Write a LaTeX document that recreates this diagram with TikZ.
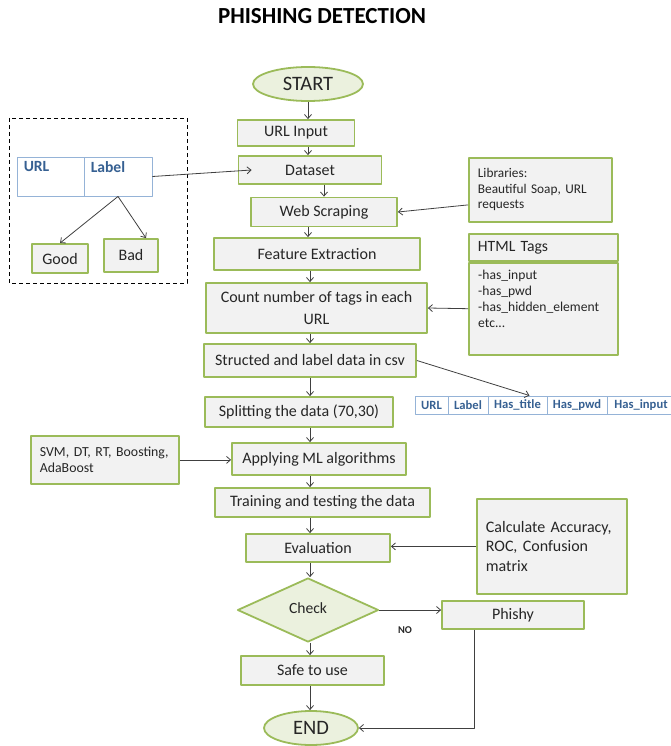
\documentclass[tikz,border=0pt]{standalone}
\usepackage{fontspec}
\setmainfont{Carlito}
\usetikzlibrary{arrows.meta,calc,positioning,shapes.geometric}
\definecolor{boxgreen}{RGB}{155,187,89}
\definecolor{boxfill}{RGB}{242,242,242}
\definecolor{termfill}{RGB}{235,241,222}
\definecolor{tblblue}{RGB}{149,179,215}
\definecolor{tbltext}{RGB}{54,96,146}
\definecolor{inkc}{RGB}{38,38,38}
\definecolor{arrowc}{RGB}{64,64,64}
\tikzset{
  procbox/.style={draw=boxgreen,line width=1.8pt,fill=boxfill,inner sep=2pt,text=inkc,font=\fontsize{16}{22}\selectfont,align=center},
  notebox/.style={procbox,align=left,inner xsep=9pt,font=\fontsize{13.3}{15.5}\selectfont},
  termnode/.style={ellipse,draw=boxgreen,line width=1.8pt,fill=termfill,inner sep=0pt,text=inkc,font=\fontsize{20.5}{22}\selectfont},
  decnode/.style={diamond,draw=boxgreen,line width=1.8pt,fill=termfill,inner sep=0pt,text=inkc,font=\fontsize{15.6}{17}\selectfont},
  tblcell/.style={draw=tblblue,line width=0.9pt,fill=white,inner sep=0pt,text=tbltext,font=\bfseries\fontsize{12.6}{13}\selectfont},
  flow/.style={draw=arrowc,line width=0.8pt,-{Straight Barb[length=4pt,width=7pt]}}
}

\begin{document}
\begin{tikzpicture}[x=1pt,y=-1pt,line join=round]
  \useasboundingbox (0,0) rectangle (670,746);
  \node[font=\bfseries\fontsize{23}{25}\selectfont,text=black] (title) at (322,16) {PHISHING DETECTION};
  % main flow
  \node[termnode,minimum width=110,minimum height=34] (start) at (308,84) {START};
  \node[procbox,minimum width=117,minimum height=26] (urlin) at (296,133) {URL Input};
  \node[procbox,minimum width=143,minimum height=28] (dataset) at (310,170) {Dataset};
  \node[procbox,minimum width=146,minimum height=29] (scrape) at (324,212) {Web Scraping};
  \node[procbox,minimum width=206,minimum height=32] (feature) at (317,254) {Feature Extraction};
  \node[procbox,minimum width=221,minimum height=50] (count) at (316.5,308) {Count number of tags in each\\URL};
  \node[procbox,minimum width=212,minimum height=33] (struct) at (310,360.5) {Structed and label data in csv};
  \node[procbox,minimum width=188,minimum height=30] (split) at (299,412) {Splitting the data (70,30)};
  \node[procbox,minimum width=174,minimum height=32] (apply) at (319,459) {Applying ML algorithms};
  \node[procbox,minimum width=215,minimum height=29] (train) at (322.5,502.5) {Training and testing the data};
  \node[procbox,minimum width=144,minimum height=28] (eval) at (318,548) {Evaluation};
  \node[decnode,minimum width=141,minimum height=64] (check) at (308,610) {\raisebox{4pt}{Check}};
  \node[procbox,minimum width=143,minimum height=29] (safe) at (312.5,670.5) {Safe to use};
  \node[termnode,minimum width=94,minimum height=34] (finish) at (311,728) {END};
  \node[procbox,minimum width=142,minimum height=28] (phishy) at (513,615) {Phishy};
  \node[font=\bfseries\fontsize{10.4}{11}\selectfont,text=inkc] (nolbl) at (405,630) {NO};
  % side notes
  \node[notebox,text width=125,minimum height=64,anchor=north west] (libs) at (468,157) {Libraries:\\Beautiful Soap, URL\\requests};
  \node[notebox,font=\fontsize{15.7}{18}\selectfont,text width=131,minimum height=27,anchor=north west] (htmlhead) at (468,233) {HTML Tags};
  \node[procbox,minimum width=149,minimum height=92,anchor=north] (htmlbody) at (htmlhead.south) {};
  \node[anchor=north west,align=left,font=\fontsize{13.6}{16}\selectfont,text=inkc,inner sep=0pt] (htmltxt) at ([shift={(10,8)}]htmlbody.north west) {-has\_input\\-has\_pwd\\-has\_hidden\_element\\etc...};
  \node[notebox,font=\fontsize{16}{19.5}\selectfont,text width=132,minimum height=95,anchor=north west] (calc) at (476,498) {Calculate Accuracy,\\ROC, Confusion\\matrix};
  \node[notebox,font=\fontsize{13.8}{15.5}\selectfont,text width=130,minimum height=48,anchor=north west] (svm) at (30,435) {SVM, DT, RT, Boosting,\\AdaBoost};
  % dataset group
  \draw[black,line width=0.8pt,dash pattern=on 4pt off 3pt] (9,118) rectangle (187,283);
  \node[tblcell,minimum width=67,minimum height=39] (urlcell) at (50.5,176.5) {};
  \node[tblcell,minimum width=68,minimum height=39] (labelcell) at (118,176.5) {};
  \node[anchor=north west,text=tbltext,font=\bfseries\fontsize{15.6}{16}\selectfont,inner sep=0pt] (urltxt) at ([shift={(7,5)}]urlcell.north west) {URL};
  \node[anchor=north west,text=tbltext,font=\bfseries\fontsize{15.6}{16}\selectfont,inner sep=0pt] (labeltxt) at ([shift={(7,5)}]labelcell.north west) {Label};
  \node[procbox,minimum width=56,minimum height=29] (good) at (60,258.5) {Good};
  \node[procbox,minimum width=54,minimum height=33] (bad) at (131,255.5) {Bad};
  % csv row
  \node[tblcell,minimum width=33,minimum height=18] (c1) at (431.5,405) {URL};
  \node[tblcell,minimum width=40,minimum height=18] (c2) at (468,405) {Label};
  \node[tblcell,minimum width=59,minimum height=18] (titlecell) at (517.5,405) {Has\_title};
  \node[tblcell,minimum width=60,minimum height=18] (c4) at (577,405) {Has\_pwd};
  \node[tblcell,minimum width=68,minimum height=18] (c5) at (641,405) {Has\_input};
  % connectors
  \coordinate (spine) at (310,0);
  \draw[flow] (start.south) -- (start.south |- urlin.north);
  \draw[flow] (urlin.south -| start.south) -- (dataset.north -| start.south);
  \draw[flow] (dataset.south -| scrape.north) -- (scrape.north);
  \draw[flow] (scrape.south -| start.south) -- (feature.north -| start.south);
  \foreach \a/\b in {feature/count,count/struct,struct/split,split/apply,apply/train,train/eval,eval/check,check/safe,safe/finish}
    \draw[flow] (\a.south -| spine) -- (\b.north -| spine);
  \draw[flow] (labelcell.east) -- ([xshift=14pt]dataset.west);
  \draw[flow] ([yshift=-15pt]libs.west) -- (scrape.east);
  \draw[flow] (htmlbody.west) -- (count.east);
  \draw[flow] (struct.east) -- ([xshift=12pt]titlecell.north);
  \draw[flow] (svm.east) -- (svm.east -| apply.west);
  \draw[flow] (calc.west) -- (calc.west -| eval.east);
  \draw[flow] (check.east) -- (check.east -| phishy.west);
  \draw[flow] ([xshift=33pt]phishy.south west) |- (finish.east);
  \draw[flow] (labelcell.south) -- (good.north);
  \draw[flow] (labelcell.south) -- ([xshift=15pt]bad.north);
\end{tikzpicture}
\end{document}
